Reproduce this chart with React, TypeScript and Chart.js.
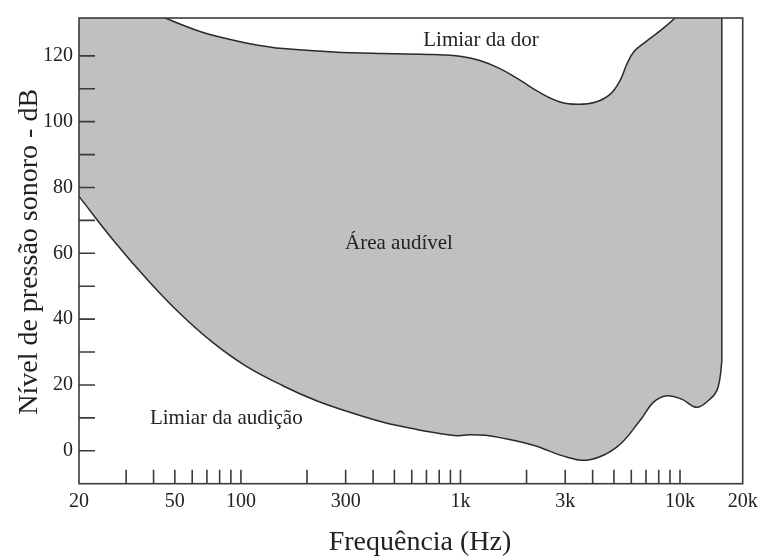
import React, { useEffect, useRef } from 'react';
import { Chart, registerables } from 'chart.js';

Chart.register(...registerables);

// Threshold of pain (upper boundary), frequency in Hz and level in dB
const upperFreq = [18.3, 45.1, 65.1, 80.3, 110, 156, 264, 445, 752, 995, 1227, 1514, 1867, 2303, 2841, 3431, 4101, 4800, 5330, 5736, 6173, 6929, 8108, 9489, 15500];
const upperDb = [142, 131.5, 127.4, 125.7, 123.7, 122.2, 121.2, 120.7, 120.4, 119.9, 118.6, 116.1, 112.6, 108.8, 106.0, 105.3, 105.9, 108.3, 112.5, 117.6, 121.3, 124.1, 127.6, 131.5, 146];

// Threshold of hearing (lower boundary)
const lowerFreq = [18.3, 26.0, 36.8, 52.2, 74.1, 105, 156, 221, 314, 445, 632, 896, 980, 1100, 1300, 1514, 2147, 3047, 3892, 5148, 6574, 7557, 8698, 10180, 11918, 13700, 14696, 15214, 15500];
const lowerDb = [77.3, 64.3, 52.6, 42.0, 33.0, 25.8, 19.7, 15.2, 11.7, 8.7, 6.5, 4.8, 4.6, 4.9, 4.7, 4.0, 1.7, -1.9, -2.7, 1.1, 9.2, 14.7, 16.7, 15.7, 13.2, 15.7, 18.2, 22.2, 27.3];

// Axis ranges
const X_MIN = 18.3;
const X_MAX = 19300;
const Y_MIN = -10;
const Y_MAX = 131.5;

// Tick labels
const xLabelValues = [20, 50, 100, 300, 1000, 3000, 10000, 20000];
const xLabelTexts = ['20', '50', '100', '300', '1k', '3k', '10k', '20k'];
const xTickMarks = [30, 40, 50, 60, 70, 80, 90, 100, 200, 300, 400, 500, 600, 700, 800, 900, 1000, 2000, 3000, 4000, 5000, 6000, 7000, 8000, 9000, 10000];
const yLabelValues = [0, 20, 40, 60, 80, 100, 120];
const yTickMarks = [0, 10, 20, 30, 40, 50, 60, 70, 80, 90, 100, 110, 120];

// Text annotations (placed in data coordinates)
const noteTexts = ['Limiar da dor', 'Área audível', 'Limiar da audição'];
const noteFreq = [677, 298, 38.5];
const noteDb = [123.0, 61.4, 8.0];

const X_TITLE = 'Frequência (Hz)';
const Y_TITLE = 'Nível de pressão sonoro - dB';

const FONT = "'Liberation Serif', 'Times New Roman', serif";
const INK = '#222222';
const LINE = '#2a2a2a';
const FILL = '#c0c0c0';

const decor = {
  id: 'decor',
  afterDatasetsDraw(chart: any) {
    const { ctx, chartArea: a, scales } = chart;
    const x = scales.x;
    const y = scales.y;
    ctx.save();
    ctx.strokeStyle = '#3a3a3a';
    ctx.lineWidth = 1.6;
    ctx.beginPath();
    for (const v of xTickMarks) {
      const px = x.getPixelForValue(v);
      ctx.moveTo(px, a.bottom);
      ctx.lineTo(px, a.bottom - 14);
    }
    for (const v of yTickMarks) {
      const py = y.getPixelForValue(v);
      ctx.moveTo(a.left, py);
      ctx.lineTo(a.left + 16, py);
    }
    ctx.stroke();
    ctx.lineWidth = 1.6;
    ctx.strokeRect(a.left, a.top, a.right - a.left, a.bottom - a.top);

    ctx.fillStyle = INK;
    ctx.font = `21px ${FONT}`;
    ctx.textAlign = 'left';
    ctx.textBaseline = 'alphabetic';
    noteTexts.forEach((t, i) => {
      ctx.fillText(t, x.getPixelForValue(noteFreq[i]), y.getPixelForValue(noteDb[i]));
    });

    ctx.font = `28px ${FONT}`;
    ctx.textAlign = 'center';
    ctx.fillText(X_TITLE, 420, 550);

    ctx.save();
    ctx.translate(36.5, (a.top + a.bottom) / 2 + 1);
    ctx.rotate(-Math.PI / 2);
    ctx.fillText(Y_TITLE, 0, 0);
    ctx.restore();
    ctx.restore();
  },
};

export default function App() {
  const ref = useRef<HTMLCanvasElement | null>(null);

  useEffect(() => {
    if (!ref.current) return;
    const upper = upperFreq.map((f, i) => ({ x: f, y: upperDb[i] }));
    const lower = lowerFreq.map((f, i) => ({ x: f, y: lowerDb[i] }));
    const edge = [
      { x: lowerFreq[lowerFreq.length - 1], y: lowerDb[lowerDb.length - 1] },
      { x: upperFreq[upperFreq.length - 1], y: upperDb[upperDb.length - 1] },
    ];
    const chart = new Chart(ref.current, {
      type: 'line',
      data: {
        datasets: [
          {
            label: 'Limiar da dor',
            data: upper,
            borderColor: LINE,
            borderWidth: 1.5,
            backgroundColor: FILL,
            fill: '+1',
            pointRadius: 0,
            tension: 0.4,
          },
          {
            label: 'Limiar da audição',
            data: lower,
            borderColor: LINE,
            borderWidth: 1.5,
            backgroundColor: FILL,
            fill: false,
            pointRadius: 0,
            tension: 0.4,
          },
          {
            label: 'edge',
            data: edge,
            borderColor: LINE,
            borderWidth: 1.5,
            fill: false,
            pointRadius: 0,
            tension: 0,
          },
        ],
      } as any,
      options: {
        animation: false,
        responsive: true,
        maintainAspectRatio: false,
        layout: { padding: { top: 14, right: 23.3, bottom: 0, left: 0 } },
        plugins: {
          legend: { display: false },
          tooltip: { enabled: false },
          filler: { drawTime: 'beforeDatasetsDraw' },
        } as any,
        scales: {
          x: {
            type: 'logarithmic',
            min: X_MIN,
            max: X_MAX,
            grid: { display: false, drawTicks: false },
            border: { display: false },
            afterBuildTicks: (s: any) => {
              const n = xLabelValues.length;
              s.ticks = xLabelValues.map((v, i) => ({ value: i === 0 ? X_MIN : i === n - 1 ? X_MAX : v }));
            },
            afterFit: (s: any) => {
              s.height = 72.3;
            },
            ticks: {
              autoSkip: false,
              maxRotation: 0,
              minRotation: 0,
              padding: 6,
              color: INK,
              font: { family: FONT, size: 20 },
              callback: (_v: any, i: number) => xLabelTexts[i],
            },
          },
          y: {
            type: 'linear',
            min: Y_MIN,
            max: Y_MAX,
            grid: { display: false, drawTicks: false },
            border: { display: false },
            afterBuildTicks: (s: any) => {
              s.ticks = yLabelValues.map((v) => ({ value: v }));
            },
            afterFit: (s: any) => {
              s.width = 79;
            },
            ticks: {
              padding: 6,
              color: INK,
              font: { family: FONT, size: 20 },
              callback: (v: any) => String(v),
            },
          },
        },
      } as any,
      plugins: [decor],
    });
    return () => chart.destroy();
  }, []);

  return (
    <div style={{ position: 'fixed', left: 0, top: 0, width: 766, height: 556, background: '#ffffff' }}>
      <canvas ref={ref} />
    </div>
  );
}
